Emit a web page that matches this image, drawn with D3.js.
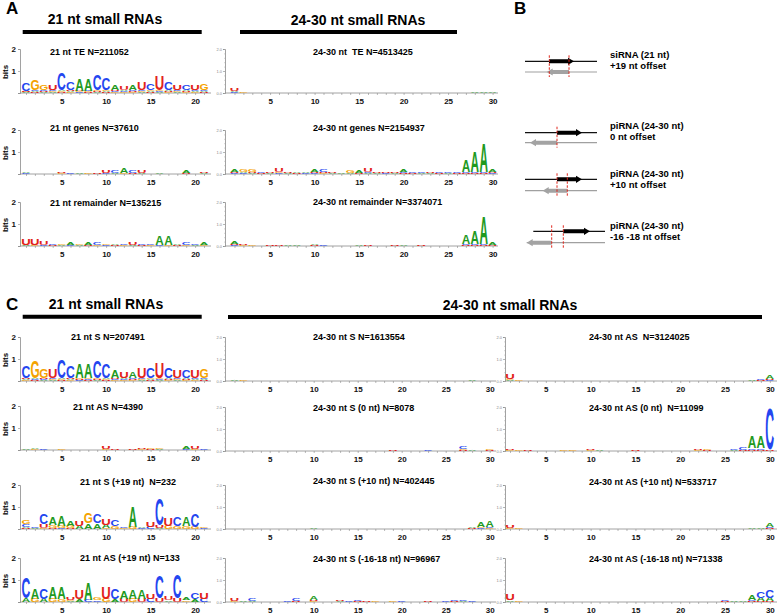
<!DOCTYPE html>
<html><head><meta charset="utf-8">
<script src="https://cdn.jsdelivr.net/npm/d3@7"></script>
<style>
body{margin:0;background:#fff}
svg{display:block}
text{font-family:"Liberation Sans",Arial,sans-serif}
</style>
</head><body>
<svg id="chart" width="778" height="614"></svg>
<script>
// ---------------- DATA ----------------
// Each logo: one string per position, "LetterHeight" with height in hundredths of bits.
const logo21TE = ["C38 U4 A3 G3","G47 A4 C4 U3","G22 C5 U4 A3","U25 C5 G4 A3","C80 A5 G4 U3","C38 U5 A4 G3","A55 G4 U4 C3","A55 G4 C4 U3","C72 G5 U4 A3","C55 A4 G4 U3","A22 U5 G4 C4","U15 A5 G4 C4","A22 C5 U4 G3","U35 C5 G4 A3","C31 G5 A4 U3","U64 G5 C4 A3","C38 A5 G4 U4","U25 C5 G4 A3","C25 A5 G4 U4","U25 C5 A4 G3","G31 C5 A4 U3"];
const logo21Genes = ["A7 C3","G2","","","U5 G3","C3 U2","A5 G2","G3","U3","U10 C5","C12 A4","A20 G4","C13 U4","U12 A4","G2","A7 C2","","G2","A14 U5","C2","U7 A3"];
const logo21Rem = ["U30 A4","U28 G4","U15 C3","C5 U3","G8 A3","A10 C3","G8 A3","A10 U3","C14 G5","G7 C4","A8 U3","C5 G3","U12 A4","C5 U3","C8 G4","A38 C4","A38 G4","A6 U3","C10 G5","C8 A4","A10 G4"];
const logoPiTE = ["U12 A4 C3","G5 A2","","","","","","","","","","","","","","","","","","","","","","","","","","A5 C2","A3","A3"];
const logoPiGenes = ["A12 U5 C3","G12 A4 C3","G10 U4 A3","C5 U3","U6 A3","U15 G4 C3","U8 A4","A6 U3","A5 C3","A12 U4 C3","C10 U4 G3","U6 A3","A5 C2","G10 A3","A12 U4","U15 C4 A3","U6 A3","U5 C3","U6 A3","A10 C4 U3","C7 U3","C6 A3","U4 A3","C5 U3","C5 A3","C6 U4","A55 C5 U4","A92 C5 U4","A130 C5 U4","A10 U4 C3"];
const logoPiRem = ["A10 U5 C3","U6 G3","G4 U2","","U3","U5 A2","A3","A3","","A8 U3","C4 A2","U2","","A2","A3","U5 A2","","U2","U3","A6 U2","A2","U3","","","","A2","A38 C4 U3","A60 C4 U3","A122 C5 U4","A10 U3"];

const logo21S = ["C52 U5 A4 G3","G76 A5 C4 U3","G44 C5 U5 A3","U41 C5 G4 A3","C86 A5 G4 U3","C52 U5 A4 G3","A64 G5 U4 C3","A64 G5 C4 U3","C79 G5 U4 A3","C64 A5 G4 U3","A33 U5 G4 C4","U26 A5 G4 C4","A30 C5 U4 G3","U46 C5 G4 A3","C46 G5 A4 U3","U71 G5 C4 A3","C49 A5 G4 U4","U36 C5 G4 A3","C36 A5 G4 U4","U33 C5 A4 G3","G41 C5 A4 U3"];
const logo21AS = ["A3","A8 G4","C3","","G4 A2","","","","","U10 G3","U4","","U5 C2","U8 G3","G6 U3","G8 A3","","","A10 C3","U12 G4","C4"];
const logo21S19 = ["G18 C10 A6 U5","C6 A4","C50 U15 G5","A35 G12 U5","A45 G10 C4","A25 G10 U4","U20 A15","G45 A25","C40 A25","U30 A15 G5","C30 G12","C8 G5","A95 G10","A6 C4","U25 C10","C120 U10 A5","U35 G15","C40 G12","A40 G12","C60 G10","G8 C5"];
const logo21AS19 = ["C95 A15","A45 G15","C45 A15","A50 G15","A50 G12","U10 G6 A5","U40 A12","A75 C10","G10 C8","U50 G15","C50 A12","A35 U15","A40 G15","A40 U15","U25 C15","C100 U15","U15 A8","C105 U15","A10 G8","C30 A12","U30 C15"];

const logoPiS = ["A3","G4 A2","","","","","","","","","","","","","","","","","","","","","","","","","","A6 C2","",""];
const logoPiS0 = ["","","","","","","","","","A2","","","","","","","","","U3","A2","","","C3","","","","C10 G5 U3","A3","","G8 U4"];
const logoPiS10 = ["","","","","","","","","","A6","","","","","","","","","","","","","","","","","","A8 U3","A20 G4 C3","A28 C5 G4"];
const logoPiS16 = ["U10 G5","A4 U2","C10 A3","","","","C4","C10 U3","","A18 U4 G3","","","U5 A3","C5","C7 U3","U5 G2","G5","","G3","C3","","","U3","","C4","C8 U3","C8 A3","C4","",""];
const logoPiAS = ["U20 G5 A3","G5 U2","","","","","","","","","","","","","","","","","","","","","","","","","","A5 G2","C8 U3","A15 U6 C3"];
const logoPiAS0 = ["U6 G3","G4","U3","A2","","","G3","G3","","U4 G3","A3","","","","U3","","","","U2","A2","","U8 G4","G5 U3","C2","","C5 A3","C10 U5","A55 C8 U5","A55 C8 U5","C185 U5"];
const logoPiAS10 = ["U10 G4","G3","","","","","","","","","","","","","","","","","","","","","","","","","","A7 C2","A3","A15 C4 U3"];
const logoPiAS16 = ["U28 A8","G3","","","","","","","","","","","","","","","","","A2","","","","","","C7 U3","A5 C2","A3","A20 C5 U3","C28 A15 U4","C38 A15 U4"];

const logoTitles = ["21 nt TE N=211052","21 nt genes N=37610","21 nt remainder N=135215",
  "24-30 nt  TE N=4513425","24-30 nt genes N=2154937","24-30 nt remainder N=3374071",
  "21 nt S N=207491","21 nt AS N=4390","21 nt S (+19 nt)  N=232","21 nt AS (+19 nt) N=133",
  "24-30 nt S N=1613554","24-30 nt S (0 nt) N=8078","24-30 nt S (+10 nt) N=402445","24-30 nt S (-16-18 nt) N=96967",
  "24-30 nt AS  N=3124025","24-30 nt AS (0 nt)  N=11099","24-30 nt AS (+10 nt) N=533717","24-30 nt AS (-16-18 nt) N=71338"];
const headings = ["21 nt small RNAs","24-30 nt small RNAs","21 nt small RNAs","24-30 nt small RNAs"];
const panelLetters = ["A","B","C"];

// Panel B schematics (units: nt along an arbitrary schematic axis)
const diagramLabels = [["siRNA (21 nt)","+19 nt offset"],["piRNA (24-30 nt)","0 nt offset"],["piRNA (24-30 nt)","+10 nt offset"],["piRNA (24-30 nt)","-16 -18 nt offset"]];
const senseLine = [[0,72],[0,72],[0,72],[8.3,80]];
const senseRead = [[24,49],[32,57],[32,57],[38.3,65]];
const asLine = [[0,72],[0,72],[0,72],[1.7,80]];
const asRead = [[21.7,44],[5,32],[17.7,42.3],[1.7,26.7]];
const cutSites = [[24.3,44],[32],[32,42.3],[26.7,38.3]];

// ---------------- LAYOUT ----------------
const colors = {A:"#1f9a1f", C:"#2446f0", G:"#f4a300", U:"#e2231a"};
const BIT = 22;
const cols = {
  L:  {axisX:20,  x1:26,    step:8.9,  n:21, end:211, big:true},
  MA: {axisX:225, x1:234.5, step:8.9,  n:30, end:498, big:false},
  MC: {axisX:225, x1:234.5, step:8.8,  n:30, end:496, big:false},
  R:  {axisX:505, x1:510,   step:8.96, n:30, end:777, big:false}
};
const panels = [
  {data:logo21TE,    col:"L",  y0:93,  tx:50,  ty:55},
  {data:logo21Genes, col:"L",  y0:174, tx:50,  ty:131},
  {data:logo21Rem,   col:"L",  y0:246, tx:50,  ty:206},
  {data:logoPiTE,    col:"MA", y0:93,  tx:313, ty:55},
  {data:logoPiGenes, col:"MA", y0:174, tx:313, ty:131},
  {data:logoPiRem,   col:"MA", y0:246, tx:313, ty:205},
  {data:logo21S,     col:"L",  y0:381, tx:71,  ty:340},
  {data:logo21AS,    col:"L",  y0:450, tx:73,  ty:410},
  {data:logo21S19,   col:"L",  y0:529, tx:80,  ty:485},
  {data:logo21AS19,  col:"L",  y0:602, tx:80,  ty:561},
  {data:logoPiS,     col:"MC", y0:381, tx:313, ty:340},
  {data:logoPiS0,    col:"MC", y0:451, tx:313, ty:411},
  {data:logoPiS10,   col:"MC", y0:529, tx:313, ty:484},
  {data:logoPiS16,   col:"MC", y0:602, tx:313, ty:562},
  {data:logoPiAS,    col:"R",  y0:381, tx:589, ty:340},
  {data:logoPiAS0,   col:"R",  y0:451, tx:589, ty:411},
  {data:logoPiAS10,  col:"R",  y0:529, tx:589, ty:485},
  {data:logoPiAS16,  col:"R",  y0:602, tx:589, ty:562}
];

const svg = d3.select("#chart");

// glyph metrics for tight letter fitting
const ctx = document.createElement("canvas").getContext("2d");
ctx.font = "bold 100px 'Liberation Sans'";
const gm = {};
"ACGU".split("").forEach(L => {
  const m = ctx.measureText(L);
  let l = m.actualBoundingBoxLeft, r = m.actualBoundingBoxRight, a = m.actualBoundingBoxAscent, d = m.actualBoundingBoxDescent;
  if (!(a > 0)) { l = -3; r = 70; a = 73; d = 1; }
  gm[L] = {l, w: l + r, a, d, h: a + d};
});

function parsePos(s) {
  if (!s) return [];
  return s.split(" ").map(t => ({L: t[0], h: +t.slice(1) / 100}));
}

panels.forEach((p, i) => {
  const c = cols[p.col];
  const x = d3.scaleLinear().domain([1, c.n]).range([c.x1, c.x1 + (c.n - 1) * c.step]);
  const y = d3.scaleLinear().domain([0, 2]).range([p.y0, p.y0 - 2 * BIT]);
  const g = svg.append("g");

  // x axis
  g.append("line").attr("x1", c.axisX).attr("x2", c.end).attr("y1", p.y0).attr("y2", p.y0)
    .attr("stroke", "#8a8a8a").attr("stroke-width", 0.8);
  const xa = g.append("g").attr("transform", `translate(0,${p.y0})`)
    .call(d3.axisBottom(x).tickValues(d3.range(1, c.n + 1)).tickSize(2).tickPadding(3)
      .tickFormat(d => d % 5 === 0 ? d : ""));
  xa.select(".domain").remove();
  xa.selectAll("line").attr("stroke", "#8a8a8a").attr("stroke-width", 0.6);
  xa.selectAll("text").attr("font-size", 8).attr("font-weight", "bold").attr("fill", "#111")
    .attr("font-family", "'Liberation Sans',Arial,sans-serif");

  // y axis
  const ya = g.append("g").attr("transform", `translate(${c.axisX},0)`);
  if (c.big) {
    ya.call(d3.axisLeft(y).tickValues([0, 1, 2]).tickSize(2).tickPadding(2).tickFormat(d => d === 0 ? "" : d));
    ya.selectAll("text").attr("font-size", 8).attr("font-weight", "bold").attr("fill", "#111")
      .attr("font-family", "'Liberation Sans',Arial,sans-serif");
    g.append("text").attr("transform", `translate(8,${p.y0 - 21}) rotate(-90)`)
      .attr("text-anchor", "middle").attr("font-size", 8).attr("font-weight", "bold").text("bits");
  } else {
    ya.call(d3.axisLeft(y).tickValues([0, 1, 2]).tickSize(2).tickPadding(1));
    ya.selectAll("text").attr("font-size", 4).attr("fill", "#888")
      .attr("font-family", "'Liberation Sans',Arial,sans-serif");
    const yb = g.append("g").attr("transform", `translate(${c.axisX},0)`)
      .call(d3.axisLeft(y).tickValues(d3.range(0, 2.01, 0.2)).tickSize(1).tickFormat(""));
    yb.select(".domain").remove();
    yb.selectAll("line").attr("stroke", "#aaa").attr("stroke-width", 0.5);
  }
  ya.select(".domain").attr("stroke", "#8a8a8a").attr("stroke-width", 0.8);
  ya.selectAll("line").attr("stroke", "#8a8a8a").attr("stroke-width", 0.6);

  // title
  g.append("text").attr("x", p.tx).attr("y", p.ty).attr("font-size", 9).attr("font-weight", "bold")
    .style("white-space", "pre").text(logoTitles[i]);

  // letters
  const W = c.step * 0.9;
  p.data.forEach((s, k) => {
    const items = parsePos(s).sort((a, b) => a.h - b.h);
    let acc = 0;
    items.forEach(it => {
      const yBot = y(acc), yTop = y(acc + it.h);
      const H = yBot - yTop;
      acc += it.h;
      if (H <= 0.05) return;
      const m = gm[it.L];
      g.append("g")
        .attr("transform", `translate(${x(k + 1) - W / 2},${yBot}) scale(${W / m.w},${H / m.h})`)
        .append("text").attr("x", m.l).attr("y", -m.d)
        .attr("font-size", 100).attr("font-weight", "bold").attr("fill", colors[it.L]).text(it.L);
    });
  });
});

// headings and bars
const headLayout = [
  {cx:105, y:24, x1:22.7, x2:201.7, by:32},
  {cx:358, y:25, x1:240,  x2:457,   by:32},
  {cx:106, y:309, x1:22.7, x2:201.7, by:316.7},
  {cx:510, y:310, x1:228,  x2:762,   by:317}
];
headings.forEach((h, i) => {
  const L = headLayout[i];
  svg.append("text").attr("x", L.cx).attr("y", L.y).attr("text-anchor", "middle")
    .attr("font-size", 14).attr("font-weight", "bold").text(h);
  svg.append("line").attr("x1", L.x1).attr("x2", L.x2).attr("y1", L.by).attr("y2", L.by)
    .attr("stroke", "#000").attr("stroke-width", 4);
});
const letterPos = [[6,14],[514,14],[6,310]];
panelLetters.forEach((t, i) => {
  svg.append("text").attr("x", letterPos[i][0]).attr("y", letterPos[i][1])
    .attr("font-size", 17).attr("font-weight", "bold").text(t);
});

// Panel B schematics
const bx = d3.scaleLinear().domain([0, 100]).range([525, 625]);
const rowY = [{s:61.3, a:72, t1:58, t2:69},{s:132.7, a:142.7, t1:129, t2:140},{s:179.3, a:190.7, t1:177, t2:188},{s:231.3, a:242.7, t1:229, t2:240}];
function arrow(x0, x1, yc, dir) {
  const hl = 6, bt = 2, ht = 3.6;
  if (dir > 0) {
    return [[x0, yc - bt],[x1 - hl, yc - bt],[x1 - hl, yc - ht],[x1, yc],[x1 - hl, yc + ht],[x1 - hl, yc + bt],[x0, yc + bt]];
  }
  return [[x1, yc - bt],[x0 + hl, yc - bt],[x0 + hl, yc - ht],[x0, yc],[x0 + hl, yc + ht],[x0 + hl, yc + bt],[x1, yc + bt]];
}
diagramLabels.forEach((lab, i) => {
  const r = rowY[i];
  const g = svg.append("g");
  g.append("line").attr("x1", bx(senseLine[i][0])).attr("x2", bx(senseLine[i][1])).attr("y1", r.s).attr("y2", r.s)
    .attr("stroke", "#111").attr("stroke-width", 1.2);
  g.append("line").attr("x1", bx(asLine[i][0])).attr("x2", bx(asLine[i][1])).attr("y1", r.a).attr("y2", r.a)
    .attr("stroke", "#a0a0a0").attr("stroke-width", 1.2);
  g.append("polygon").attr("points", arrow(bx(senseRead[i][0]), bx(senseRead[i][1]), r.s, 1).join(" ")).attr("fill", "#000");
  g.append("polygon").attr("points", arrow(bx(asRead[i][0]), bx(asRead[i][1]), r.a, -1).join(" ")).attr("fill", "#a3a3a3");
  cutSites[i].forEach(cx => {
    g.append("line").attr("x1", bx(cx)).attr("x2", bx(cx)).attr("y1", r.s - 6).attr("y2", r.a + 5)
      .attr("stroke", "#e0261c").attr("stroke-width", 1).attr("stroke-dasharray", "2.5,1.5");
  });
  g.append("text").attr("x", 610).attr("y", r.t1).attr("font-size", 9.5).attr("font-weight", "bold").text(lab[0]);
  g.append("text").attr("x", 610).attr("y", r.t2).attr("font-size", 9.5).attr("font-weight", "bold").text(lab[1]);
});
</script>
</body></html>
